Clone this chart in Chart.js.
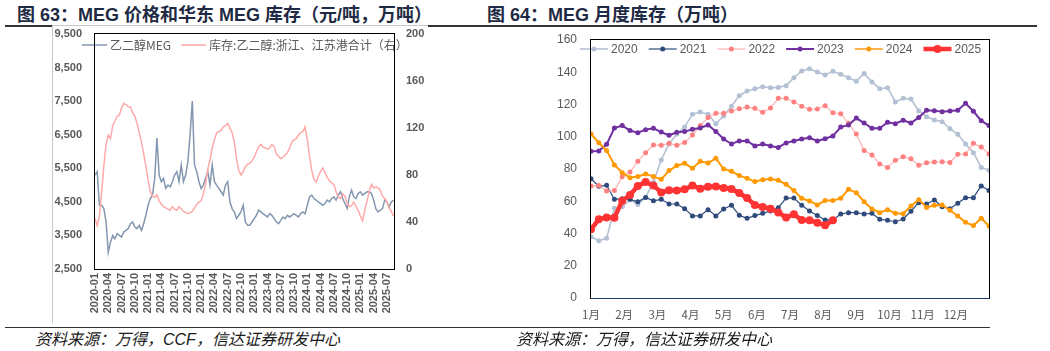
<!DOCTYPE html>
<html lang="zh-CN">
<head>
<meta charset="utf-8">
<title>MEG 价格与库存</title>
<script src="https://cdn.jsdelivr.net/npm/chart.js@4.4.0/dist/chart.umd.min.js"></script>
<style>
  body { margin: 0; background: #fff; }
  #page { position: relative; width: 1050px; height: 351px; overflow: hidden;
          font-family: "Liberation Sans", "Noto Sans CJK SC", sans-serif; }
  .title { position: absolute; top: 0px; font-weight: bold; font-size: 18px; color: #1f2a44; white-space: nowrap; }
  .rule { position: absolute; height: 1.5px; background: #333; }
  .src { position: absolute; top: 326px; font-style: italic; font-size: 16px; color: #1a1a1a; white-space: nowrap; }
  .frame { position: absolute; box-sizing: border-box; z-index: 5; pointer-events: none; }
  canvas { position: absolute; }
</style>
</head>
<body>
<div id="page">
  <div class="title" style="left:17px">图 63：MEG 价格和华东 MEG 库存（元/吨，万吨）</div>
  <div class="title" style="left:487px">图 64：MEG 月度库存（万吨）</div>

  <div class="rule" style="left:5px;top:25px;width:47px"></div>
  <div class="rule" style="left:428px;top:25px;width:609px"></div>
  <div style="position:absolute;left:52px;top:25px;width:376px;height:1px;background:#c8c8c8"></div>
  <div style="position:absolute;left:52px;top:25px;width:1px;height:298px;background:#c8c8c8"></div>
  <div class="rule" style="left:5px;top:327px;width:985px;height:1px"></div>

  <canvas id="left" width="376" height="298" style="left:52px;top:25px"></canvas>
  <canvas id="right" width="500" height="299" style="left:520px;top:28px"></canvas>

  <div class="src" style="left:35px">资料来源：万得，CCF，信达证券研发中心</div>
  <div class="src" style="left:516px">资料来源：万得，信达证券研发中心</div>
</div>

<script>
// ---- figure 63: price (left axis) and port stock (right axis), twice a month from 2020-01
const priceLabel = '乙二醇MEG';
const stockLabel = '库存:乙二醇:浙江、江苏港合计（右）';
const dateTicks = ['2020-01','2020-04','2020-07','2020-10','2021-01','2021-04','2021-07','2021-10',
  '2022-01','2022-04','2022-07','2022-10','2023-01','2023-04','2023-07','2023-10',
  '2024-01','2024-04','2024-07','2024-10','2025-01','2025-04','2025-07'];

const priceValues = [
  5300, 5400, 4400, 4400, 4300, 3900, 3000, 3300, 3500, 3400,
  3550, 3500, 3450, 3600, 3650, 3700, 3850, 3900, 3750, 3700,
  3800, 3650, 3850, 4100, 4400, 4600, 4700, 5200, 6400, 5300,
  5100, 5200, 4900, 5000, 4950, 5100, 5300, 5400, 5100, 5600,
  5100, 5300, 5700, 6500, 7500, 5600, 5400, 5100, 4900, 5000,
  5200, 5400, 5000, 5600, 5100, 5000, 4900, 4800, 4700, 5000,
  5100, 4500, 4300, 4200, 4000, 4100, 4200, 4400, 3900, 3800,
  3800, 3900, 4000, 4100, 4250,
  4200, 4150, 4100, 4050, 4150, 4100, 4000, 3900, 3850, 3950,
  4050, 4000, 4100, 4050, 4100, 4150, 4100, 4050, 4150, 4200,
  4150, 4400, 4650, 4700, 4600, 4550, 4500, 4450, 4400, 4450,
  4550, 4500, 4600, 4650, 4550, 4700, 4800, 4600, 4450, 4300,
  4650, 4850, 4650, 4600, 4750, 4800, 4700, 4750, 4800, 4800,
  4750, 4550, 4300, 4200, 4250, 4300, 4550, 4500, 4350, 4500, 4550
];
const stockValues = [
  43, 37, 45, 65, 88, 106, 114, 111, 122, 126,
  130, 131, 137, 141, 140, 138, 138, 133, 130, 124,
  116, 108, 98, 88, 76, 66, 62, 61, 63, 58,
  55, 53, 52, 51, 50, 53, 51, 50, 53, 51,
  49, 48, 47, 48, 49, 52, 55, 57, 58, 64,
  72, 85, 93, 103, 110, 116, 117, 118, 121, 122,
  124, 120, 116, 108, 94, 84, 80, 83, 87, 89,
  90, 92, 95, 100, 104,
  106, 104, 103, 102, 103, 106, 104, 98, 96, 94,
  95, 97, 99, 103, 108, 110, 111, 114, 116, 117,
  121, 110, 96, 84, 76, 74, 79, 83, 86, 82,
  78, 75, 73, 72, 66, 61, 60, 64, 62, 56,
  53, 54, 57, 53, 50, 45, 41, 50, 58, 66,
  72, 69, 70, 69, 67, 62, 60, 57, 52, 49, 45
];

// ---- figure 64: weekly stock by year
const monthLabels = ['1月','2月','3月','4月','5月','6月','7月','8月','9月','10月','11月','12月'];
const years = ['2020','2021','2022','2023','2024','2025'];
const stock2020 = [38, 35.5, 37, 55.6, 56.6, 61, 58, 62.4, 72, 85.6, 95.5, 101.7, 106, 114, 115.3, 113.9, 108.1,
  112.9, 118.9, 125.5, 128.4, 129.8, 131, 130.4, 130.6, 131.7, 136.6, 140.8, 142.2, 140.2, 138.3, 140.6, 138.7,
  136.6, 134.4, 139.3, 134, 129.8, 130.4, 121.6, 123.8, 123.4, 116, 112.4, 110.4, 109.3, 105, 101.5, 95.5, 90.1, 81, 79.2];
const stock2021 = [74, 69.3, 69.9, 61.2, 61.6, 61.2, 59.7, 62.4, 60.3, 61.2, 58.3, 58.3, 55.4, 50.9, 50.9, 54.8,
  50.9, 55.2, 57.5, 51.3, 49.4, 51.1, 52.5, 54, 56, 62, 62, 57.5, 54, 51.1, 48.4, 48.4, 52.1, 52.9, 52.9, 52.1,
  52.5, 48.8, 48.2, 47.3, 49, 53.8, 59.1, 58.3, 60.8, 56.6, 55.4, 58.7, 62.2, 62.2, 69.5, 66.6];
const stock2022 = [69.5, 69.7, 66.4, 66.6, 75.2, 78.1, 84.8, 90.1, 94.9, 94.7, 95.9, 94.7, 96.5, 101.1, 106.9,
  112, 114.5, 114.5, 116, 117.4, 118.4, 117.6, 115.2, 117.8, 123.8, 123.8, 121.6, 118.9, 117, 117.2, 119.3, 114.9,
  114.3, 108.3, 101.7, 91.4, 88.7, 83.1, 81, 85.4, 87.6, 86.4, 82.3, 83.9, 84.3, 84.5, 84.1, 89.1, 89.3, 95.9, 93.6, 89.3];
const stock2023 = [91, 91.2, 95.3, 105.4, 106.9, 103.8, 102.5, 104.4, 105.2, 102.9, 100.9, 102.8, 103.2, 104.6,
  105.4, 107.3, 103.2, 98.6, 95.5, 97.4, 97.4, 94.3, 95.5, 94.3, 93.4, 96.2, 97.4, 98.6, 99.4, 97.4, 98.8, 100.5,
  106, 107.3, 111.6, 108.5, 105.2, 105.2, 109, 108.1, 110.2, 108.5, 112, 116.4, 116.2, 115.5, 116, 116.4, 120.7,
  115.8, 110, 106.9];
const stock2024 = [101.7, 96.3, 91.4, 82.5, 77.7, 74.6, 75.4, 76.9, 75.4, 73.6, 79, 82.1, 83.5, 80.4, 84.8, 83.7,
  86.6, 80, 78.6, 75.9, 74.2, 72.2, 73.4, 73.8, 73, 70.5, 66.6, 61.8, 60.2, 57.7, 60.4, 60.4, 61.8, 67.4, 65.3,
  59.7, 55.2, 52.9, 54.8, 52.5, 52.3, 57.1, 61, 56.2, 57.5, 57.7, 54.4, 50.9, 46.9, 44.9, 49.4, 44.7];
const stock2025 = [42.6, 48.8, 50, 49.8, 60.3, 63.9, 69.5, 71.9, 69.7, 65.5, 66.8, 66.6, 67.4, 69.7, 67.8, 69,
  69.2, 68.2, 67.6, 65.1, 62, 57.7, 56.4, 55.4, 53.1, 50, 51.9, 48.4, 48.2, 46.7, 45.1, 48.2];
const yearSeries = [stock2020, stock2021, stock2022, stock2023, stock2024, stock2025];

const tickFontL = { family: 'Liberation Sans', size: 11, weight: 'bold' };
const tickFontR = { family: 'Liberation Sans', size: 12 };
const gray = '#595959';

// fixed axis sizes so the plot box lands where it should
const fixW = w => s => { s.width = w; s.paddingTop = 0; s.paddingBottom = 0; };
const fixH = h => s => { s.height = h; s.paddingLeft = 0; s.paddingRight = 0; };

// box around the chart's plot area, laid over the canvas
function addFrame(chart, color, bottomColor) {
  const c = chart.canvas, a = chart.chartArea;
  const L = c.offsetLeft + Math.round(a.left), T = c.offsetTop + Math.round(a.top);
  const R = c.offsetLeft + Math.round(a.right), B = c.offsetTop + Math.round(a.bottom);
  const d = document.createElement('div');
  d.className = 'frame';
  d.style.left = (L - 1) + 'px';
  d.style.top = (T - 1) + 'px';
  d.style.width = (R - L + 2) + 'px';
  d.style.height = (B - T + 2) + 'px';
  d.style.border = '1.5px solid ' + color;
  d.style.borderBottomColor = bottomColor;
  document.getElementById('page').appendChild(d);
}

// excel-like legend: line sample with a marker, then the label
function drawLegend(chart, o) {
  const ctx = chart.ctx;
  ctx.save();
  ctx.font = o.font;
  ctx.textBaseline = 'middle';
  const sets = chart.data.datasets;
  let x = o.x;
  sets.forEach(ds => {
    ctx.strokeStyle = ds.legendColor || ds.borderColor;
    ctx.lineWidth = ds.borderWidth;
    ctx.beginPath(); ctx.moveTo(x, o.y); ctx.lineTo(x + o.sample, o.y); ctx.stroke();
    if (ds.pointRadius) {
      ctx.fillStyle = ds.pointBackgroundColor;
      ctx.beginPath(); ctx.arc(x + o.sample / 2, o.y, ds.pointRadius, 0, Math.PI * 2); ctx.fill();
    }
    x += o.sample + 3;
    ctx.fillStyle = gray;
    ctx.fillText(ds.label, x, o.y + 0.5);
    x += ctx.measureText(ds.label).width + o.gap;
  });
  ctx.restore();
}

const leftLegend = { x: 30, y: 20, sample: 25, gap: 10, font: '12px "Noto Sans CJK SC"' };
const rightLegend = { x: 60, y: 21, sample: 28, gap: 11, font: '12px "Liberation Sans"' };

const leftChart = new Chart(document.getElementById('left'), {
  type: 'line',
  data: {
    datasets: [
      {
        label: priceLabel,
        data: priceValues.map((v, i) => ({ x: i / 2, y: v })),
        yAxisID: 'y',
        borderColor: '#8497b0',
        borderWidth: 1.5,
        pointRadius: 0,
        order: 1
      },
      {
        label: stockLabel,
        data: stockValues.map((v, i) => ({ x: i / 2, y: v })),
        yAxisID: 'y1',
        borderColor: '#ffa9a9',
        borderWidth: 1.5,
        pointRadius: 0,
        order: 0
      }
    ]
  },
  options: {
    responsive: false,
    animation: false,
    devicePixelRatio: 1,
    layout: { autoPadding: false, padding: { top: 9, left: 0, right: 0, bottom: 0 } },
    plugins: { legend: { display: false }, tooltip: { enabled: false } },
    scales: {
      x: {
        type: 'linear',
        min: 0,
        max: 67.6,
        afterBuildTicks: s => { s.ticks = dateTicks.map((_, i) => ({ value: i * 3 })); },
        afterFit: fixH(54),
        grid: { display: false, drawTicks: false },
        border: { display: false },
        ticks: {
          autoSkip: false, minRotation: 90, maxRotation: 90, padding: 4,
          color: gray, font: tickFontL,
          callback: (v, i) => dateTicks[i]
        }
      },
      y: {
        position: 'left',
        min: 2500,
        max: 9500,
        afterFit: fixW(43),
        grid: { display: false, drawTicks: false },
        border: { display: false },
        ticks: { stepSize: 1000, padding: 13, color: gray, font: tickFontL,
                 callback: v => v.toLocaleString('en-US') }
      },
      y1: {
        position: 'right',
        min: 0,
        max: 200,
        afterFit: fixW(34),
        grid: { display: false, drawTicks: false },
        border: { display: false },
        ticks: { stepSize: 40, padding: 12, color: gray, font: tickFontL }
      }
    }
  },
  plugins: [{ id: 'legendL', afterDraw: chart => drawLegend(chart, leftLegend) }]
});

const yearColors = ['#b4c0d3', '#2f4b7c', '#ffb3b3', '#7030a0', '#ff9900', '#ff3333'];
const markerColors = ['#b4c0d3', '#2f4b7c', '#ff8080', '#7030a0', '#ff9900', '#ff3333'];
const lineWidths = [1.6, 1.2, 1.2, 2, 2, 4.5];
const markerSizes = [2.5, 2.5, 2.5, 2.5, 2.5, 4];

const rightChart = new Chart(document.getElementById('right'), {
  type: 'line',
  data: {
    datasets: years.map((y, k) => ({
      label: y,
      data: yearSeries[k].map((v, i) => ({ x: i, y: v })),
      borderColor: yearColors[k],
      legendColor: k === 4 ? '#ffb24d' : yearColors[k],
      backgroundColor: markerColors[k],
      pointBackgroundColor: markerColors[k],
      pointBorderWidth: 0,
      pointRadius: markerSizes[k],
      borderWidth: lineWidths[k],
      order: -k
    }))
  },
  options: {
    responsive: false,
    animation: false,
    devicePixelRatio: 1,
    layout: { autoPadding: false, padding: { top: 12, left: 0, right: 31, bottom: 0 } },
    plugins: { legend: { display: false }, tooltip: { enabled: false } },
    scales: {
      x: {
        type: 'linear',
        min: 0,
        max: 51,
        afterBuildTicks: s => { s.ticks = monthLabels.map((_, i) => ({ value: i * 51 / 12 })); },
        afterFit: fixH(29),
        grid: { display: false, drawTicks: false },
        border: { display: false },
        ticks: { autoSkip: false, maxRotation: 0, padding: 10, color: gray,
                 font: { family: 'Noto Sans CJK SC', size: 11.5 },
                 callback: (v, i) => monthLabels[i] }
      },
      y: {
        min: 0,
        max: 160,
        afterFit: fixW(71),
        grid: { display: false, drawTicks: false },
        border: { display: false },
        ticks: { stepSize: 20, padding: 14, color: gray, font: tickFontR }
      }
    }
  },
  plugins: [{ id: 'legendR', afterDraw: chart => drawLegend(chart, rightLegend) }]
});

addFrame(leftChart, '#000', '#000');
addFrame(rightChart, '#000', '#1f3864');
</script>
</body>
</html>
